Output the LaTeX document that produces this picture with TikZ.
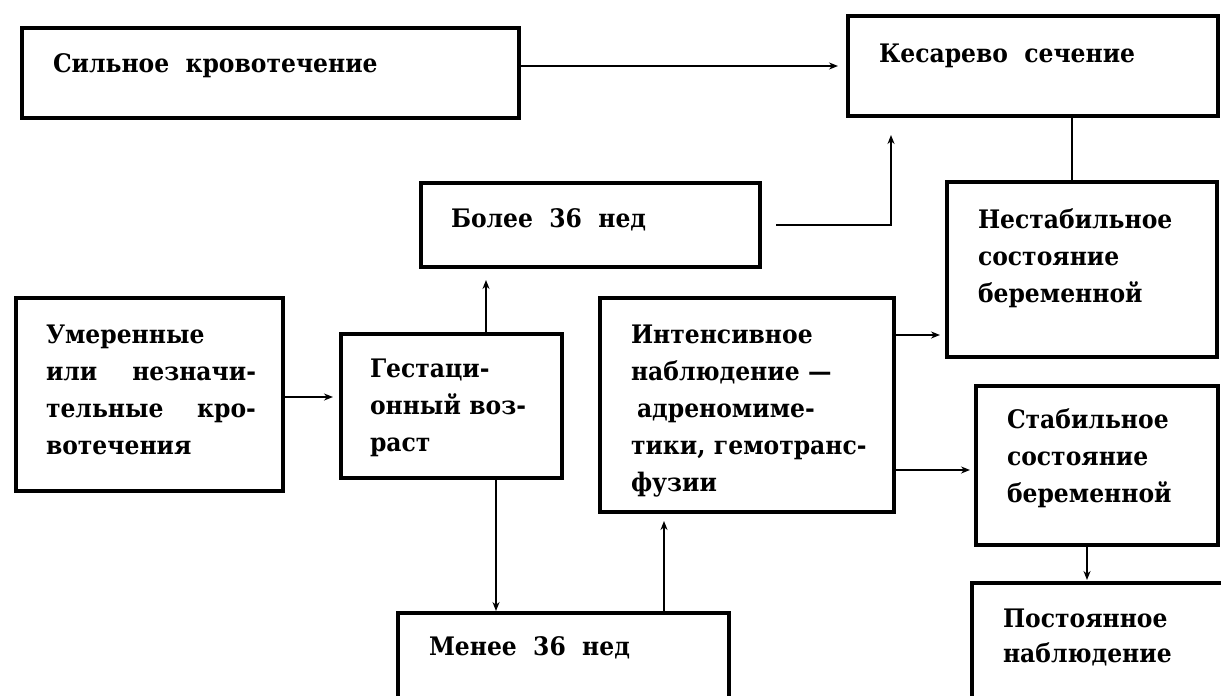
\documentclass[tikz,border=0pt]{standalone}
\usepackage{fontspec}
\setmainfont{DejaVu Serif}[WordSpace=2.0, FakeStretch=0.92]
\usetikzlibrary{arrows.meta}
\begin{document}
\begin{tikzpicture}[x=1pt,y=-1pt,
  box/.style={draw, line width=3.8pt, inner sep=0pt, outer sep=0pt, anchor=north west},
  txt/.style={anchor=base west, inner sep=0pt, outer sep=0pt, align=left, font=\bfseries\fontsize{25.5}{37}\selectfont},
  conn/.style={line width=1.5pt, -{Stealth[length=9pt,width=7pt]}},
  plain/.style={line width=1.5pt}]
\useasboundingbox (0,0) rectangle (1221,696);
\clip (0,0) rectangle (1221,696);
\fill[white] (0,0) rectangle (1221,696);
% boxes
\node[box, minimum width=497pt, minimum height=90pt]  (strong) at (22,28) {};
\node[box, minimum width=370pt, minimum height=100pt] (kes)    at (848,16) {};
\node[box, minimum width=339pt, minimum height=84pt]  (bolee)  at (421,183) {};
\node[box, minimum width=270pt, minimum height=175pt] (nestab) at (947,182) {};
\node[box, minimum width=267pt, minimum height=193pt] (umer)   at (16,298) {};
\node[box, minimum width=221pt, minimum height=144pt] (gest)   at (341,334) {};
\node[box, minimum width=294pt, minimum height=214pt] (intens) at (600,298) {};
\node[box, minimum width=242pt, minimum height=159pt] (stab)   at (976,386) {};
\node[box, minimum width=331pt, minimum height=130pt] (menee)  at (398,613) {};
\node[box, minimum width=280pt, minimum height=140pt] (post)   at (972,583) {};
% texts
\node[txt] (t1) at (53,72) {Сильное кровотечение};
\node[txt] (t2) at (879,62) {Кесарево сечение};
\node[txt] (t3) at (451,227) {Более 36 нед};
\node[txt, text width=220pt] (t4) at (978,228) {Нестабильное\\состояние\\беременной};
\node[txt, text width=210pt] (t5) at (46,343) {Умеренные\\или\hfill незначи-\\тельные\hfill кро-\\вотечения};
\node[txt, text width=170pt] (t6) at (370,377) {Гестаци-\\онный воз-\\раст};
\node[txt, text width=240pt] (t7) at (631,343) {Интенсивное\\наблюдение —\\\hspace*{6pt}адреномиме-\\тики, гемотранс-\\фузии};
\node[txt, text width=200pt] (t8) at (1007,428) {Стабильное\\состояние\\беременной};
\node[txt] (t9) at (429,655) {Менее 36 нед};
\node[txt, text width=200pt, font=\bfseries\fontsize{25.5}{35}\selectfont] (t10) at (1003,627) {Постоянное\\наблюдение};
% helper coordinates
\coordinate (kb) at ([xshift=43pt]kes.south west);
\coordinate (kn) at ([xshift=224pt]kes.south west);
\coordinate (gb) at ([xshift=145pt]gest.north west);
\coordinate (gm) at ([xshift=155pt]gest.south west);
\coordinate (mi) at ([xshift=64pt]intens.south west);
\coordinate (in1) at ([yshift=-37pt]intens.north east);
\coordinate (in2) at ([yshift=-172pt]intens.north east);
\coordinate (sp) at ([xshift=111pt]stab.south west);
\coordinate (ug) at ([yshift=-2.5pt]umer.east);
% connectors
\draw[conn, shorten >=10pt] (kes.west -| strong.east) -- (kes.west);
\draw[conn, shorten <=16pt, shorten >=19pt] (bolee.east) -| (kb);
\draw[plain] (kn) -- (kn |- nestab.north);
\draw[conn, shorten >=8pt] (ug) -- (ug -| gest.west);
\draw[conn, shorten >=13pt] (gb) -- (gb |- bolee.south);
\draw[conn, shorten >=2pt] (gm) -- (gm |- menee.north);
\draw[conn, shorten >=9pt] (mi |- menee.north) -- (mi);
\draw[conn, shorten >=7pt] (in1) -- (in1 -| nestab.west);
\draw[conn, shorten >=6pt] (in2) -- (in2 -| stab.west);
\draw[conn, shorten >=3pt] (sp) -- (sp |- post.north);
\end{tikzpicture}
\end{document}
